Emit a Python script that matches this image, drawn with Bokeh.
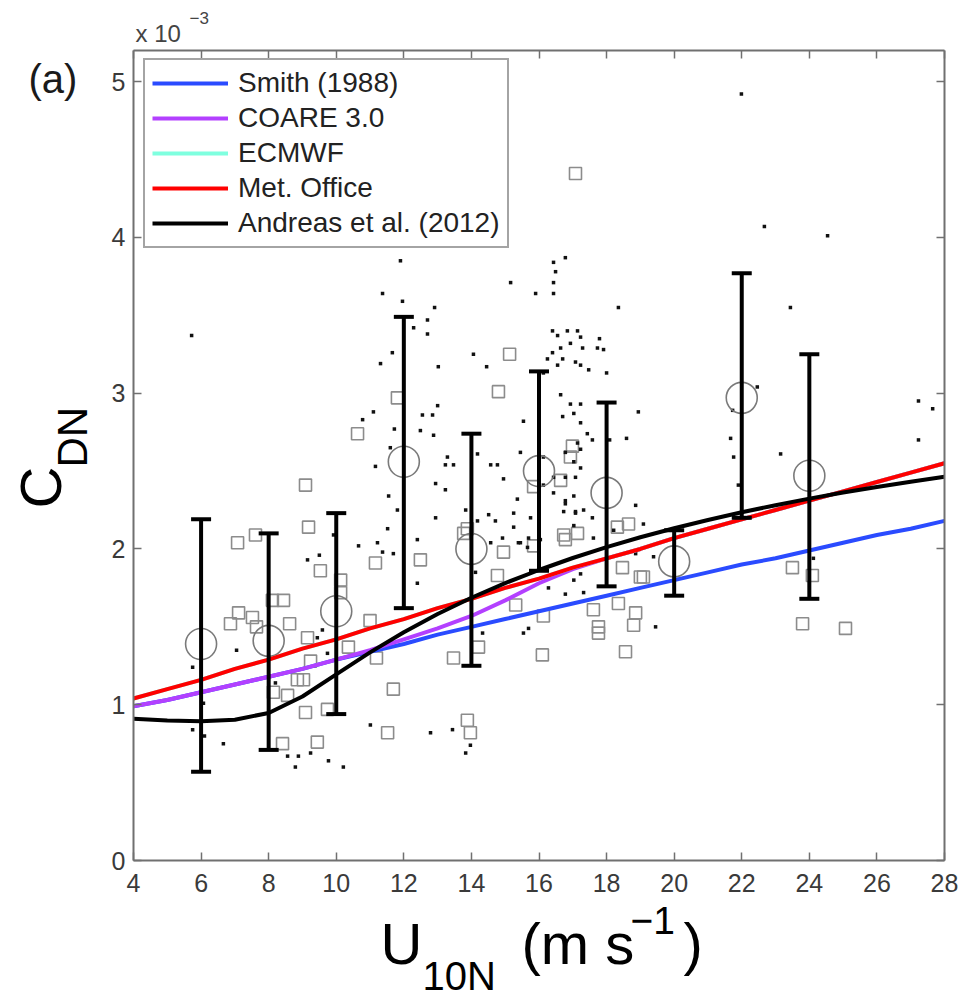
import math
from bokeh.plotting import figure
from bokeh.models import (Range1d, LinearAxis, Label, Legend, LegendItem, Whisker,
                          TeeHead, ColumnDataSource, FixedTicker)
from bokeh.embed import file_html
from bokeh.resources import INLINE

# ---------------- data (C_DN in units of 1e-3) ----------------
U_MODEL = [4, 5, 6, 7, 8, 9, 10, 11, 12, 13, 14, 15, 16, 17, 18, 19, 20,
           21, 22, 23, 24, 25, 26, 27, 28]
SMITH_1988 = [0.99, 1.03, 1.08, 1.13, 1.18, 1.23, 1.29, 1.34, 1.39, 1.45, 1.50,
              1.55, 1.60, 1.65, 1.70, 1.75, 1.80, 1.85, 1.90, 1.94, 1.99, 2.04,
              2.09, 2.13, 2.18]
COARE_30 = [0.99, 1.03, 1.08, 1.13, 1.18, 1.23, 1.29, 1.35, 1.42, 1.49, 1.57,
            1.67, 1.78, 1.87, 1.94, 2.00, 2.07, 2.13, 2.19, 2.25, 2.31, 2.37,
            2.43, 2.49, 2.55]
ECMWF = [1.04, 1.10, 1.16, 1.23, 1.29, 1.36, 1.42, 1.49, 1.55, 1.62, 1.68, 1.75,
         1.81, 1.88, 1.94, 2.00, 2.07, 2.13, 2.19, 2.25, 2.31, 2.37, 2.43, 2.49,
         2.55]
MET_OFFICE = [1.04, 1.10, 1.16, 1.23, 1.29, 1.36, 1.42, 1.49, 1.55, 1.62, 1.68,
              1.75, 1.81, 1.88, 1.94, 2.00, 2.07, 2.13, 2.19, 2.25, 2.31, 2.37,
              2.43, 2.49, 2.55]
ANDREAS_2012 = [0.910, 0.898, 0.894, 0.904, 0.947, 1.053, 1.195, 1.336, 1.465,
                1.582, 1.687, 1.781, 1.865, 1.942, 2.012, 2.075, 2.133, 2.186,
                2.236, 2.281, 2.323, 2.362, 2.398, 2.432, 2.464]

BIN_U = [6, 8, 10, 12, 14, 16, 18, 20, 22, 24]
BIN_MEAN = [1.39, 1.41, 1.60, 2.56, 2.00, 2.50, 2.36, 1.92, 2.97, 2.47]
BIN_UPPER = [2.19, 2.10, 2.23, 3.49, 2.74, 3.14, 2.94, 2.12, 3.77, 3.25]
BIN_LOWER = [0.57, 0.71, 0.94, 1.62, 1.25, 1.86, 1.76, 1.70, 2.20, 1.68]

SQ_U = [15.13, 14.80, 11.81, 10.63, 9.09, 9.18, 13.88, 15.84, 17.08,
        7.08, 7.61, 8.11, 8.44, 7.11, 6.87, 7.52, 7.64, 8.62, 9.53, 10.13, 10.13,
        9.15, 9.24, 8.85, 9.03, 8.56, 9.09, 9.74, 8.41, 9.44, 8.14, 10.36, 11.16,
        12.49, 11.00, 11.19, 11.69, 11.52, 13.77, 14.95, 14.77, 14.21, 13.47,
        13.88, 13.97, 15.31, 16.10, 16.13, 17.14, 16.78, 17.61, 17.76, 17.76,
        18.86, 18.80, 18.56, 19.09, 18.47, 23.50, 24.09, 23.80, 25.07, 18.35,
        16.99, 16.93, 16.64, 16.73, 15.84, 18.65, 18.32, 19.00]
SQ_C = [3.25, 3.01, 2.97, 2.74, 2.41, 2.14, 2.13, 2.40, 4.41,
        2.04, 2.09, 1.67, 1.67, 1.59, 1.52, 1.56, 1.50, 1.52, 1.86, 1.80, 1.72,
        1.43, 1.28, 1.16, 1.16, 1.06, 0.95, 0.97, 0.75, 0.76, 1.08, 1.37, 1.91,
        1.93, 1.54, 1.30, 1.10, 0.82, 2.10, 1.98, 1.83, 1.37, 1.30,
        0.90, 0.82, 1.64, 1.32, 1.57, 2.10, 2.06, 1.61, 1.50, 1.46,
        1.59, 1.51, 1.34, 1.82, 1.88, 1.88, 1.83, 1.52, 1.49, 1.65,
        2.66, 2.59, 2.44, 2.09, 2.02, 2.16, 2.14, 1.82]

DOT_U = [5.72, 11.90, 11.37, 11.96, 12.91, 12.70, 12.29, 12.70, 15.16, 15.90,
         11.66, 11.31, 13.02, 14.06, 14.45, 13.00, 11.10, 10.78, 11.72, 12.55,
         12.85, 12.49, 12.88, 15.54, 11.60, 11.16, 13.29, 13.23, 13.47, 14.18,
         14.57, 14.77, 15.45, 14.95, 12.94, 13.23, 11.55, 11.81, 12.94, 14.51,
         14.71, 14.18, 15.36, 15.25, 15.75, 15.25, 11.52, 9.92, 11.22, 10.66,
         11.69, 11.37, 12.40, 12.40, 9.15, 9.50, 7.05, 5.75, 9.44, 9.74,
         9.59, 6.07, 5.75, 6.10, 6.66, 8.20, 8.56, 8.88, 8.79, 9.24,
         9.77, 10.21, 11.01, 12.79, 13.44, 13.83, 13.97, 14.12, 14.33, 15.69,
         15.54, 15.45, 15.66, 14.57, 14.92, 16.43, 16.78, 16.49, 16.43, 16.43,
         18.35, 21.99, 22.67, 24.54, 23.44, 16.40, 16.84, 17.14, 16.55, 17.23,
         16.93, 17.79, 17.29, 16.64, 17.73, 17.91, 16.40, 16.70, 16.25, 17.08,
         17.23, 17.47, 16.55, 18.00, 16.13, 16.64, 16.93, 17.23, 18.94, 16.70,
         17.03, 17.23, 17.43, 17.58, 18.09, 18.59, 16.13, 17.14, 16.78, 17.23,
         17.03, 17.23, 16.43, 16.78, 17.08, 16.13, 16.43, 17.03, 16.78, 16.73,
         17.32, 17.08, 17.58, 17.03, 18.86, 19.09, 21.67, 21.76, 21.90, 23.15,
         27.23, 27.65, 27.23, 22.46, 21.73, 17.23, 16.78, 17.32, 19.45, 18.86,
         19.39, 18.21, 16.28, 17.03, 24.12, 16.78, 17.08, 16.04, 15.69, 15.39,
         17.61, 13.83]
DOT_C = [3.37, 3.85, 3.64, 3.59, 3.55, 3.47, 3.42, 3.38, 3.71, 3.64,
         3.26, 3.19, 3.17, 3.25, 3.17, 2.92, 2.88, 2.83, 2.77, 2.86,
         2.86, 2.76, 2.73, 2.82, 2.65, 2.53, 2.59, 2.54, 2.54, 2.61,
         2.54, 2.54, 2.62, 2.45, 2.42, 2.38, 2.34, 2.25, 2.20, 2.22,
         2.18, 2.18, 2.32, 2.23, 2.20, 2.14, 2.13, 2.09, 2.04, 2.02,
         1.97, 1.98, 2.06, 1.78, 1.93, 1.96, 1.35, 1.24, 1.43, 1.33,
         1.48, 1.01, 0.84, 0.80, 0.75, 1.14, 0.67, 0.67, 0.60, 0.69,
         0.64, 0.60, 0.87, 0.82, 0.84, 0.69, 0.74, 1.85, 1.46, 1.49,
         1.46, 2.04, 2.01, 2.04, 2.07, 3.84, 3.87, 3.78, 3.71, 3.64,
         3.55, 4.92, 4.07, 4.01, 3.55, 3.40, 3.40, 3.40, 3.37, 3.36,
         3.32, 3.35, 3.29, 3.29, 3.29, 3.28, 3.26, 3.22, 3.22, 3.20,
         3.18, 3.15, 3.18, 3.13, 3.13, 2.99, 2.93, 2.93, 2.88, 2.85,
         2.87, 2.81, 2.74, 2.70, 2.70, 2.71, 2.59, 2.68, 2.62, 2.64,
         2.56, 2.52, 2.46, 2.46, 2.46, 2.41, 2.36, 2.34, 2.29, 2.24,
         2.25, 2.23, 2.20, 2.15, 2.28, 2.16, 2.71, 2.59, 2.41, 2.61,
         2.95, 2.90, 2.70, 3.04, 2.89, 1.84, 1.71, 1.72, 1.50, 1.97,
         1.95, 2.12, 1.75, 1.80, 1.94, 2.31, 2.24, 2.06, 2.07, 2.04,
         2.07, 2.25]

X_TICKS = [4, 6, 8, 10, 12, 14, 16, 18, 20, 22, 24, 26, 28]
Y_TICKS = [0, 1, 2, 3, 4, 5]

# ---------------- layout constants ----------------
FONT = "Liberation Sans"
W, H = 964, 997                 # canvas
X0, X1, Y0, Y1 = 4, 28, 0, 5.2  # axes box in data units
BOX_L, BOX_R, BOX_T, BOX_B = 133, 944, 50, 860   # axes box in canvas px
XS = (BOX_R - BOX_L) / (X1 - X0)
YS = (BOX_B - BOX_T) / (Y1 - Y0)

# the frame spans the whole canvas; axes are pinned at the box edges
p = figure(frame_width=W, frame_height=H,
           x_range=Range1d(X0 - BOX_L / XS, X1 + (W - BOX_R) / XS),
           y_range=Range1d(Y0 - (H - BOX_B) / YS, Y1 + BOX_T / YS),
           output_backend="svg", toolbar_location=None,
           x_axis_location=None, y_axis_location=None,
           min_border=0)
p.outline_line_color = None
p.xgrid.visible = False
p.ygrid.visible = False
p.background_fill_color = "white"
p.border_fill_color = "white"

AX_COLOR = "#707070"


def make_axis(fixed, bounds, ticks, show_labels, standoff):
    ax = LinearAxis(fixed_location=fixed, bounds=bounds)
    ax.ticker = FixedTicker(ticks=ticks)
    ax.axis_line_color = AX_COLOR
    ax.axis_line_width = 2
    ax.major_tick_line_color = AX_COLOR
    ax.major_tick_line_width = 1.5
    ax.major_tick_in = 8
    ax.major_tick_out = 0
    ax.minor_tick_line_color = None
    ax.major_label_text_font = FONT
    ax.major_label_text_font_size = "25px"
    ax.major_label_text_color = "#3a3a3a" if show_labels else None
    ax.major_label_standoff = standoff
    return ax


p.add_layout(make_axis(Y0, (X0, X1), X_TICKS, True, 13), "below")
p.add_layout(make_axis(Y1, (X0, X1), X_TICKS, False, 2), "above")
p.add_layout(make_axis(X0, (Y0, Y1), Y_TICKS, True, 8), "left")
p.add_layout(make_axis(X1, (Y0, Y1), Y_TICKS, False, 2), "right")

# observations
p.scatter(SQ_U, SQ_C, marker="square", size=12, fill_color=None,
          line_color="#8c8c8c", line_width=1.6)
p.scatter(DOT_U, DOT_C, marker="square", size=3.5, fill_color="#111111",
          line_color=None)
p.scatter(BIN_U, BIN_MEAN, marker="circle", size=31, fill_color=None,
          line_color="#7a7a7a", line_width=1.6)

# parameterisations
r_smith = p.line(U_MODEL, SMITH_1988, line_color="#2a4bff", line_width=4)
r_coare = p.line(U_MODEL, COARE_30, line_color="#b340ff", line_width=4)
r_ecmwf = p.line(U_MODEL, ECMWF, line_color="#7fffdf", line_width=4)
r_met = p.line(U_MODEL, MET_OFFICE, line_color="#ff0000", line_width=4)
r_andr = p.line(U_MODEL, ANDREAS_2012, line_color="#000000", line_width=4)

# error bars
src = ColumnDataSource(dict(x=BIN_U, upper=BIN_UPPER, lower=BIN_LOWER))
wh = Whisker(source=src, base="x", upper="upper", lower="lower",
             dimension="height", line_color="black", line_width=4,
             upper_head=TeeHead(size=20, line_width=4, line_color="black"),
             lower_head=TeeHead(size=20, line_width=4, line_color="black"),
             level="annotation")
p.add_layout(wh)

legend = Legend(items=[
    LegendItem(label="Smith (1988)", renderers=[r_smith]),
    LegendItem(label="COARE 3.0", renderers=[r_coare]),
    LegendItem(label="ECMWF", renderers=[r_ecmwf]),
    LegendItem(label="Met. Office", renderers=[r_met]),
    LegendItem(label="Andreas et al. (2012)", renderers=[r_andr]),
], location=(143, H - 248))
legend.label_text_font = FONT
legend.label_text_font_size = "28px"
legend.label_text_color = "#222222"
legend.glyph_width = 76
legend.glyph_height = 30
legend.label_height = 30
legend.spacing = 3
legend.padding = 7
legend.margin = 0
legend.label_standoff = 10
legend.border_line_color = "#4a4a4a"
legend.border_line_width = 2
legend.background_fill_color = "white"
legend.background_fill_alpha = 1.0
p.add_layout(legend)


# ---------------- texts: left edge and vertical centre in canvas px ----------------
def add_text(px, py, text, size, color="black", angle=0.0):
    p.add_layout(Label(x=px, y=H - py, x_units="screen", y_units="screen",
                       text=text, angle=angle, level="overlay",
                       text_align="left", text_baseline="middle",
                       text_font=FONT, text_font_size=size,
                       text_color=color))


# x label: U_10N (m s^-1)
add_text(380, 943, "U", "58px")
add_text(422, 975, "10N", "40px")
add_text(521, 943, "(m s", "58px")
add_text(630, 920, "\u22121", "39px")
add_text(683, 943, ")", "58px")

# y label: C_DN (rotated: first value is the centre across the text)
add_text(40, 508, "C", "58px", angle=math.pi / 2)
add_text(72, 467, "DN", "42px", angle=math.pi / 2)

# panel tag and exponent
add_text(28, 78, "(a)", "40px", color="#1a1a1a")
add_text(135, 33, "x 10", "24px", color="#444444")
add_text(189, 17, "\u22123", "17px", color="#444444")

open("out.html", "w").write(file_html(p, INLINE))
